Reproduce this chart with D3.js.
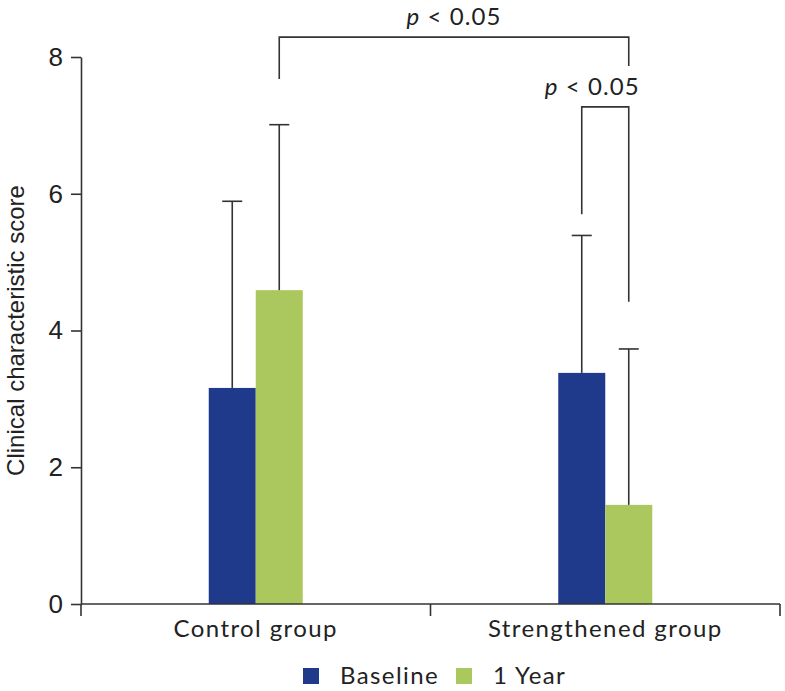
<!DOCTYPE html>
<html lang="en">
<head>
    <meta charset="UTF-8">
    <title>Clinical characteristic score</title>
    <script src="https://cdn.jsdelivr.net/npm/d3@7"></script>
    <style>
        body { margin: 0; background: #fff; }
        svg text { fill: #222; }
        .tick-label { font-family: "Liberation Sans", Arial, sans-serif; }
        .cat-label, .legend-label, .p-label { font-family: Lato, "Open Sans", sans-serif; letter-spacing: 1.4px; }
        .p-label { letter-spacing: 1.1px; }
    </style>
</head>
<body>
    <svg id="chart"></svg>

    <script>
        // data
        let groups = ['Control group', 'Strengthened group'];
        let series = ['Baseline', '1 Year'];
        let baselineMean = [3.16, 3.38];
        let baselineSD = [2.73, 2.01];
        let yearMean = [4.59, 1.45];
        let yearSD = [2.42, 2.28];
        let yTicks = [0, 2, 4, 6, 8];
        let colors = ['#1f3a8a', '#abc85f'];

        // significance brackets: [group, series] ends, bracket level, drop levels
        let comparisons = [
            { from: ['Control group', '1 Year'], to: ['Strengthened group', '1 Year'], level: 8.29, drops: [7.68, 7.87], label: '0.05' },
            { from: ['Strengthened group', 'Baseline'], to: ['Strengthened group', '1 Year'], level: 7.27, drops: [5.70, 4.42], label: '0.05' }
        ];

        let width = 785;
        let height = 691;
        let margin = { top: 57, right: 5, bottom: 87, left: 81 };

        let svg = d3.select('#chart')
            .attr('width', width)
            .attr('height', height);

        let x0 = d3.scaleBand()
            .domain(groups)
            .range([margin.left, width - margin.right]);

        let barW = 47;
        let x1 = d3.scaleBand()
            .domain(series)
            .range([x0.bandwidth() / 2 - barW, x0.bandwidth() / 2 + barW]);

        let y = d3.scaleLinear()
            .domain([0, 8])
            .range([height - margin.bottom, margin.top]);

        //table of bars
        let rows = [];
        groups.forEach(function (g, i) {
            rows.push({ group: g, series: 'Baseline', mean: baselineMean[i], sd: baselineSD[i] });
            rows.push({ group: g, series: '1 Year', mean: yearMean[i], sd: yearSD[i] });
        });
        let color = d3.scaleOrdinal().domain(series).range(colors);

        function cx(g, s) {
            return x0(g) + x1(s) + x1.bandwidth() / 2;
        }

        // bars
        svg.append('g')
            .selectAll('rect')
            .data(rows)
            .join('rect')
            .attr('x', d => x0(d.group) + x1(d.series))
            .attr('y', d => y(d.mean))
            .attr('width', x1.bandwidth())
            .attr('height', d => y(0) - y(d.mean))
            .attr('fill', d => color(d.series));

        // error bars (upper only)
        let err = svg.append('g')
            .attr('stroke', '#333')
            .attr('stroke-width', 1.6);
        err.selectAll('line.stem')
            .data(rows)
            .join('line')
            .attr('class', 'stem')
            .attr('x1', d => cx(d.group, d.series))
            .attr('x2', d => cx(d.group, d.series))
            .attr('y1', d => y(d.mean))
            .attr('y2', d => y(d.mean + d.sd));
        err.selectAll('line.cap')
            .data(rows)
            .join('line')
            .attr('class', 'cap')
            .attr('x1', d => cx(d.group, d.series) - 10)
            .attr('x2', d => cx(d.group, d.series) + 10)
            .attr('y1', d => y(d.mean + d.sd))
            .attr('y2', d => y(d.mean + d.sd));

        // y axis
        let yAxis = svg.append('g')
            .attr('transform', `translate(${margin.left},0)`)
            .call(d3.axisLeft(y).tickValues(yTicks).tickSize(10).tickSizeOuter(0).tickPadding(8));
        yAxis.selectAll('text')
            .attr('class', 'tick-label')
            .style('font-size', '26px')
            .attr('fill', '#222');
        yAxis.selectAll('path, line').attr('stroke', '#333').attr('stroke-width', 1.6);

        // x axis, ticks on band edges
        let xAxis = svg.append('g')
            .attr('transform', `translate(0,${y(0)})`);
        xAxis.append('line')
            .attr('x1', x0.range()[0]).attr('x2', x0.range()[1]);
        let edges = groups.map(g => x0(g)).concat([x0.range()[1]]);
        xAxis.selectAll('line.edge')
            .data(edges)
            .join('line')
            .attr('class', 'edge')
            .attr('x1', d => d).attr('x2', d => d)
            .attr('y1', 0).attr('y2', 12);
        xAxis.selectAll('line').attr('stroke', '#333').attr('stroke-width', 1.6);
        xAxis.selectAll('text')
            .data(groups)
            .join('text')
            .attr('class', 'cat-label')
            .attr('x', d => x0(d) + x0.bandwidth() / 2)
            .attr('y', 33)
            .attr('text-anchor', 'middle')
            .style('font-size', '24px')
            .text(d => d);

        // y title
        svg.append('text')
            .attr('class', 'tick-label')
            .attr('transform', `translate(24,${(y(0) + y(8)) / 2}) rotate(-90)`)
            .attr('text-anchor', 'middle')
            .style('font-size', '24px')
            .text('Clinical characteristic score');

        // significance brackets
        let br = svg.append('g');
        comparisons.forEach(function (c, i) {
            let xa = cx(c.from[0], c.from[1]);
            let xb = cx(c.to[0], c.to[1]);
            br.append('path')
                .attr('d', `M${xa},${y(c.drops[0])}V${y(c.level)}H${xb}V${y(c.drops[1])}`)
                .attr('fill', 'none')
                .attr('stroke', '#333')
                .attr('stroke-width', 1.6);
            let t = br.append('text')
                .attr('class', 'p-label')
                .attr('x', (xa + xb) / 2 - (i == 1 ? 13 : 0))
                .attr('y', y(c.level) - 12)
                .attr('text-anchor', 'middle')
                .style('font-size', '24px');
            t.append('tspan').style('font-style', 'italic').text('p');
            t.append('tspan').text(' < ' + c.label);
        });

        // legend
        let legend = svg.append('g')
            .attr('transform', `translate(303,${height - 5})`);
        let lx = [0, 153];
        series.forEach(function (s, i) {
            legend.append('rect')
                .attr('x', lx[i]).attr('y', -18)
                .attr('width', 16).attr('height', 16)
                .attr('fill', color(s));
            legend.append('text')
                .attr('class', 'legend-label')
                .attr('x', lx[i] + 37)
                .attr('y', -2)
                .style('font-size', '24px')
                .text(s);
        });
    </script>
</body>
</html>
